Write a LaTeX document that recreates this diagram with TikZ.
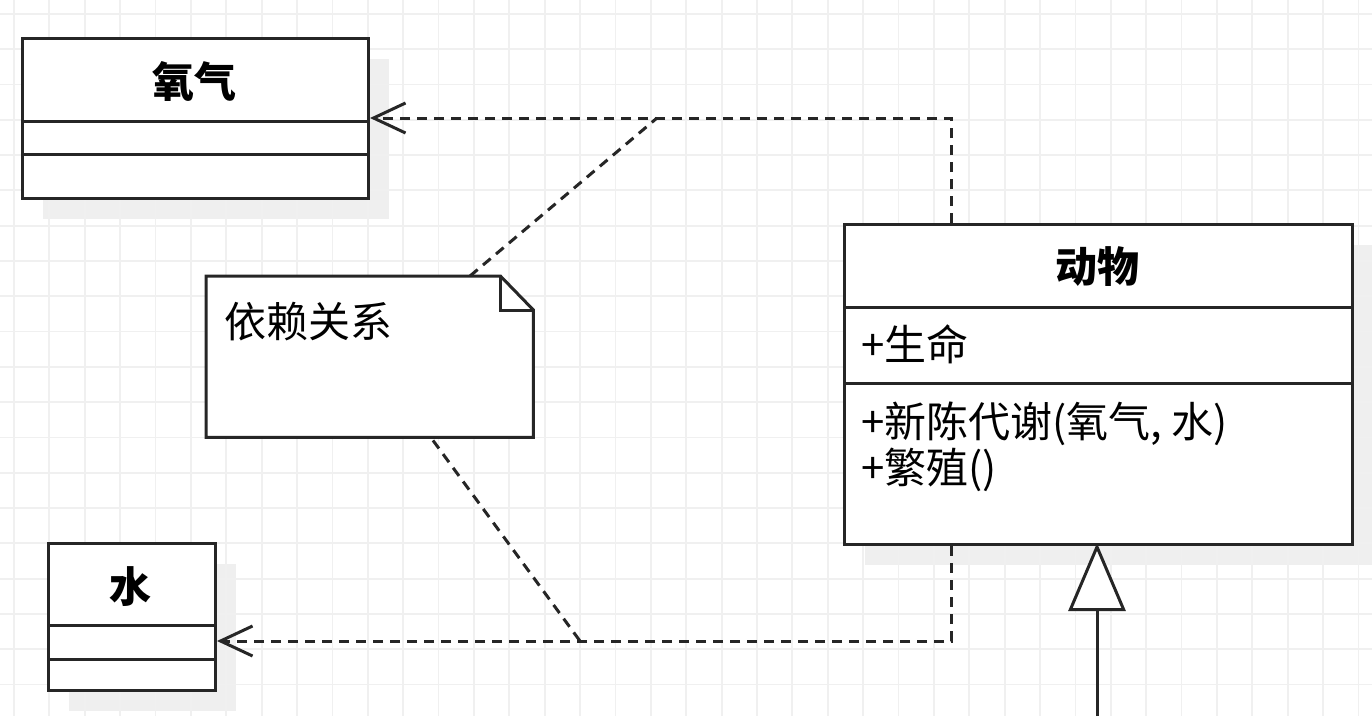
\documentclass[tikz,border=0pt]{standalone}
\usepackage{fontspec}
\setmainfont{Noto Sans CJK SC}
\usetikzlibrary{arrows.meta,calc}
\definecolor{gridc}{HTML}{F0F0F0}
\definecolor{shadowc}{HTML}{EFEFEF}
\begin{document}
\begin{tikzpicture}[x=1pt,y=-1pt,
  classbox/.style={draw=black!85,line width=3pt,fill=white,inner sep=0pt,anchor=north west},
  titletext/.style={inner sep=0pt,font=\fontsize{42}{46}\selectfont\bfseries},
  bodytext/.style={inner sep=0pt,anchor=west,font=\fontsize{42}{46}\selectfont},
  dep/.style={dashed,dash pattern=on 10pt off 7pt,line width=3pt,draw=black!85},
  deparrow/.style={dep,-{Straight Barb[length=32pt,width=30pt,line width=3pt]}},
  divider/.style={line width=3pt,draw=black!85},
  genline/.style={line width=3pt,draw=black!85,-{Triangle[open,length=68pt,width=57pt,line width=3pt,fill=white]}}
]
\useasboundingbox (0,0) rectangle (1372,716);
\fill[white] (0,0) rectangle (1372,716);
% shadows
\fill[shadowc] (43,59) rectangle (389,219);
\fill[shadowc] (69,564) rectangle (236,711);
\fill[shadowc] (865,245) rectangle (1372,565);
% grid
\foreach \k in {0,...,38} {
  \draw[gridc,line width=1.8pt] (14+35.38*\k,0) -- (14+35.38*\k,716);
}
\foreach \k in {0,...,20} {
  \draw[gridc,line width=1.8pt] (0,13.8+35.3*\k) -- (1372,13.8+35.3*\k);
}
% class boxes
\node[classbox,minimum width=346pt,minimum height=160pt] (oxy) at (21,37) {};
\draw[divider] (oxy.west |- 0,121) -- (oxy.east |- 0,121);
\draw[divider] (oxy.west |- 0,154) -- (oxy.east |- 0,154);
\node[titletext] (oxyt) at (194,81) {氧气};

\node[classbox,minimum width=167pt,minimum height=147pt] (water) at (47,542) {};
\draw[divider] (water.west |- 0,625) -- (water.east |- 0,625);
\draw[divider] (water.west |- 0,659) -- (water.east |- 0,659);
\node[titletext] (watert) at (130,587) {水};

\node[classbox,minimum width=508pt,minimum height=320pt] (animal) at (843,223) {};
\draw[divider] (animal.west |- 0,307) -- (animal.east |- 0,307);
\draw[divider] (animal.west |- 0,383) -- (animal.east |- 0,383);
\node[titletext] (animalt) at (1097,267) {动物};
\node[bodytext] (attr) at (861,344) {+生命};
\node[bodytext] (op1) at (861,424) {+新陈代谢(氧气, 水)};
\node[bodytext] (op2) at (861,470) {+繁殖()};

% note
\node[inner sep=0pt,minimum width=327pt,minimum height=161pt,anchor=north west] (note) at (206,276) {};
\draw[line width=3pt,draw=black!85,fill=white,line join=miter]
  (note.north west) -- ($(note.north east)+(-33,0)$) -- ($(note.north east)+(0,34)$)
  -- (note.south east) -- (note.south west) -- cycle;
\draw[line width=3pt,draw=black!85,line join=miter]
  ($(note.north east)+(-33,0)$) -- ($(note.north east)+(-33,34)$) -- ($(note.north east)+(0,34)$);
\node[bodytext] (notet) at (224,322) {依赖关系};

% dependencies
\coordinate (a1) at ($(animal.north west)+(108,0)$);
\coordinate (b1) at (a1 |- 0,118);
\draw[deparrow] (a1) -- (b1) -- (oxy.east |- b1);
\coordinate (n1) at (657,118);
\draw[dep] ($(note.north west)+(264,0)$) -- (n1);

\coordinate (a2) at ($(animal.south west)+(108,0)$);
\coordinate (b2) at (a2 |- 0,641);
\draw[deparrow] (a2) -- (b2) -- (water.east |- b2);
\coordinate (n2) at (580,641);
\draw[dep] ($(note.south west)+(227,3)$) -- (n2);

% generalization
\coordinate (g0) at (1097,716);
\coordinate (g1) at ($(animal.south -| g0)+(0,-3)$);
\draw[genline] (g0) -- (g1);
\end{tikzpicture}
\end{document}
